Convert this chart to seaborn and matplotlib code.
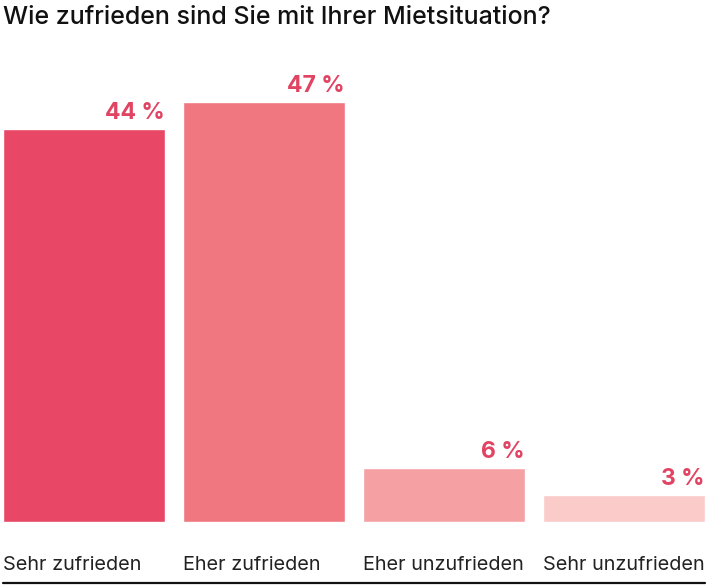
import pandas as pd
import seaborn as sns
import matplotlib.pyplot as plt
from matplotlib.lines import Line2D

sns.set_style("white")
plt.rcParams['font.family'] = ['Inter', 'DejaVu Sans']

categories = ['Sehr zufrieden', 'Eher zufrieden', 'Eher unzufrieden', 'Sehr unzufrieden']
values = [44, 47, 6, 3]
labels = ['44 %', '47 %', '6 %', '3 %']
colors = ['#E84866', '#F07780', '#F5A0A2', '#FACBC9']

df = pd.DataFrame({'kategorie': categories, 'wert': values})

W, H = 710, 586
fig = plt.figure(figsize=(W / 100, H / 100), dpi=100)
ax = fig.add_axes([3 / W, (H - 522) / H, 702 / W, 447 / H])

sns.barplot(data=df, x='kategorie', y='wert', hue='kategorie', palette=colors,
            width=0.9, legend=False, ax=ax, saturation=1)
ax.set_xlim(-0.45, 3.45)
ax.set_ylim(0, 50)
ax.axis('off')

for i, (v, lab) in enumerate(zip(values, labels)):
    ax.annotate(lab, (i + 0.45, v), xytext=(0, 3.5), textcoords='offset points',
                ha='right', va='bottom', fontsize=16.5, fontweight='bold', color='#E04462')
    ax.annotate(categories[i], (i - 0.45, 0), xytext=(0, -(565 - 522) * 0.72),
                textcoords='offset points', ha='left', va='center',
                fontsize=14.3, color='#222222')

fig.text(3 / W, 1 - 17 / H, 'Wie zufrieden sind Sie mit Ihrer Mietsituation?',
         ha='left', va='center', fontsize=18, fontweight='medium', color='#111111')
fig.add_artist(Line2D([3 / W, 705 / W], [1 - 583 / H, 1 - 583 / H], color='#111111', lw=1.6))

plt.savefig('out.png', dpi=100)
